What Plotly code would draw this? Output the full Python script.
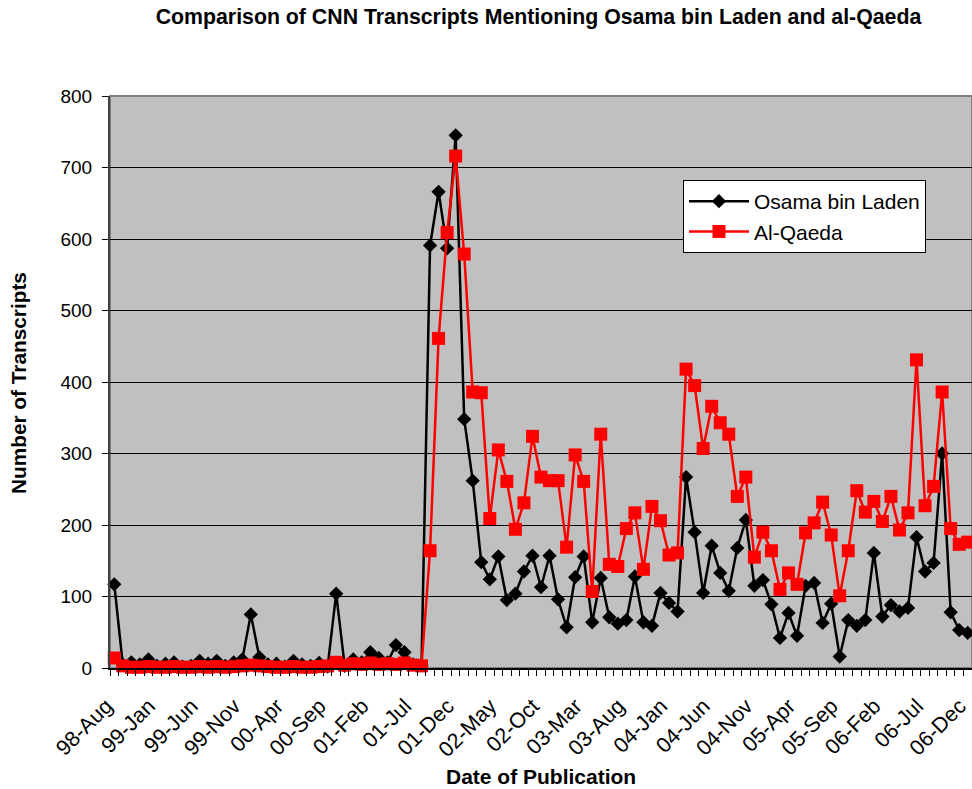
import pandas as pd
import plotly.graph_objects as go

# Monthly categories 98-Aug .. 06-Dec
months = list(pd.date_range("1998-08-01", periods=101, freq="MS").strftime("%y-%b"))

osama = [117, 5, 8, 5, 12, 3, 6, 8, 2, 3,
         10, 6, 10, 3, 8, 12, 75, 15, 5, 6,
         2, 10, 5, 3, 7, 2, 104, 3, 12, 8,
         22, 14, 8, 32, 22, 5, 4, 591, 666, 587,
         745, 348, 262, 148, 124, 156, 95, 104, 135, 157,
         113, 157, 96, 57, 127, 156, 64, 126, 71, 62,
         67, 128, 64, 59, 105, 91, 79, 267, 190, 105,
         171, 133, 108, 168, 207, 115, 123, 89, 42, 77,
         45, 115, 119, 63, 90, 16, 67, 59, 67, 161,
         72, 88, 79, 84, 183, 135, 147, 300, 78, 53,
         49]

alqaeda = [14, 3, 1, 1, 2, 1, 1, 2, 1, 1,
           2, 1, 2, 1, 2, 3, 4, 3, 2, 1,
           1, 2, 1, 1, 2, 3, 8, 4, 6, 5,
           7, 5, 6, 5, 7, 4, 3, 164, 461, 609,
           716, 579, 386, 385, 209, 305, 261, 194, 231, 324,
           267, 262, 262, 169, 298, 261, 107, 327, 145, 142,
           195, 217, 138, 226, 206, 158, 161, 418, 395, 307,
           366, 343, 327, 240, 267, 155, 190, 164, 110, 133,
           117, 189, 203, 232, 186, 101, 164, 248, 218, 233,
           205, 240, 193, 217, 431, 227, 254, 386, 195, 173,
           176]

y_ticks = [0, 100, 200, 300, 400, 500, 600, 700, 800]

idx = list(range(len(months)))
tick_idx = idx[::5]
tick_txt = months[::5]

FONT = "Liberation Sans, Arial, sans-serif"

fig = go.Figure()
fig.add_trace(go.Scatter(
    x=idx, y=osama, name="Osama bin Laden", mode="lines+markers",
    line=dict(color="black", width=2.5),
    marker=dict(symbol="diamond", size=11, color="black", line=dict(width=0)),
    cliponaxis=False,
))
fig.add_trace(go.Scatter(
    x=idx, y=alqaeda, name="Al-Qaeda", mode="lines+markers",
    line=dict(color="#FF0000", width=2.5),
    marker=dict(symbol="square", size=13, color="#FF0000", line=dict(width=0)),
    cliponaxis=False,
))

# plot-area frame (top/right grey)
fig.add_shape(type="rect", xref="paper", yref="paper", x0=0, x1=1, y0=0, y1=1,
              line=dict(color="#808080", width=2), layer="below")

fig.update_layout(
    width=972, height=789,
    margin=dict(l=110, r=0, t=96, b=121),
    paper_bgcolor="white", plot_bgcolor="#C0C0C0",
    font=dict(family=FONT, color="black", size=19),
    title=dict(text="<b>Comparison of CNN Transcripts Mentioning Osama bin Laden and al-Qaeda</b>",
               font=dict(size=21.3, family=FONT), xref="container", x=(538.5 / 972),
               y=1 - 17 / 789, yanchor="middle", xanchor="center"),
    showlegend=True,
    legend=dict(x=(683 - 110) / 862, y=(668 - 180) / 572, xanchor="left", yanchor="top",
                bgcolor="white", bordercolor="black", borderwidth=1,
                font=dict(size=21, family=FONT), itemwidth=60,
                tracegroupgap=0),
    xaxis=dict(range=[-0.5, len(months) - 0.5], tickmode="array", tickvals=tick_idx,
               ticktext=tick_txt, tickangle=-45, ticks="", showgrid=False, zeroline=False,
               showline=True, linecolor="black", linewidth=2,
               tickfont=dict(size=21.5, family=FONT), ticklabeloverflow="allow",
               ticklabelshift=-8, ticklabelstandoff=15,
               minor=dict(tickmode="linear", tick0=-0.5, dtick=1, ticks="outside",
                          ticklen=6, tickcolor="black", tickwidth=1, showgrid=False)),
    yaxis=dict(range=[0, 800], tickmode="array", tickvals=y_ticks, ticks="outside",
               ticklen=6, tickcolor="black", showgrid=True, gridcolor="black", gridwidth=1,
               zeroline=False, showline=True, linecolor="#404040", linewidth=2,
               tickfont=dict(size=19, family=FONT), ticklabelstandoff=6),
    annotations=[
        dict(text="<b>Number of Transcripts</b>", xref="paper", yref="paper",
             x=(18 - 110) / 862, y=(668 - 383) / 572, textangle=-90, showarrow=False,
             font=dict(size=20.8, family=FONT), xanchor="center", yanchor="middle"),
        dict(text="<b>Date of Publication</b>", xref="paper", yref="paper",
             x=(540.5 - 110) / 862, y=(668 - 776) / 572, showarrow=False,
             font=dict(size=21, family=FONT), xanchor="center", yanchor="middle"),
    ],
)

fig.write_html("out.html", config={"displayModeBar": False},
               post_script="document.body.style.margin='0';document.body.style.overflow='hidden';")
